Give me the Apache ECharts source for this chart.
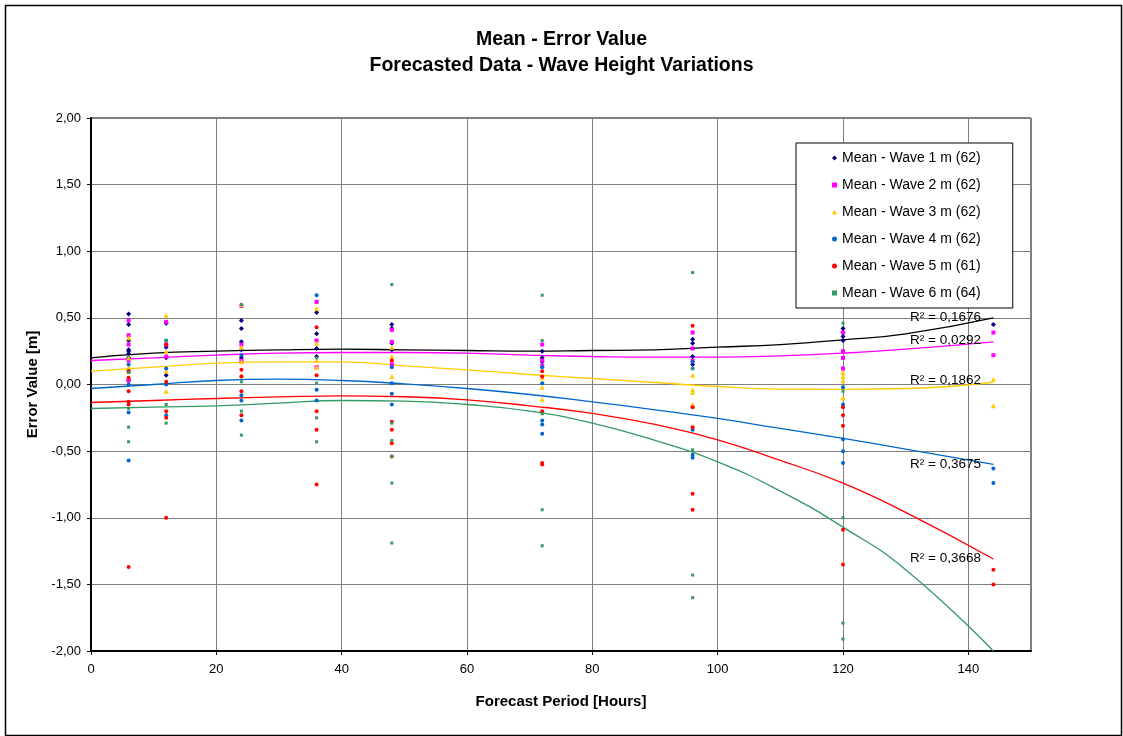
<!DOCTYPE html>
<html>
<head>
<meta charset="utf-8">
<script src="https://cdn.jsdelivr.net/npm/echarts@6/dist/echarts.min.js"></script>
<style>
  html, body { margin: 0; padding: 0; background: #fff; }
  #chart { width: 1123px; height: 736px; }
</style>
</head>
<body>
<div id="chart"></div>
<script>
// forecast periods (hours) where the means were sampled
const periods = [6, 12, 24, 36, 48, 72, 96, 120, 144];

// error values per period, one list per wave height
const wave1 = [
  [0.53, 0.45, 0.33, 0.26, 0.25, 0.23, 0.2, 0.03],
  [0.46, 0.28, 0.2, 0.07],
  [0.48, 0.42, 0.32, 0.26, 0.2],
  [0.54, 0.38, 0.27, 0.21],
  [0.45, 0.42, 0.31, 0.26],
  [0.25, 0.2, 0.17],
  [0.34, 0.31, 0.21, 0.15],
  [0.42, 0.39, 0.36, 0.33],
  [0.45]
];
const wave2 = [
  [0.48, 0.37, 0.3, 0.18, 0.03],
  [0.47, 0.3, 0.21],
  [0.59, 0.3, 0.18],
  [0.62, 0.33, 0.13],
  [0.41, 0.32, 0.15],
  [0.3, 0.18, 0.14],
  [0.39, 0.27, 0.18],
  [0.39, 0.25, 0.2, 0.12],
  [0.39, 0.22]
];
const wave3 = [
  [0.35, 0.2, 0.13, 0.1],
  [0.52, 0.25, 0.1, -0.05],
  [0.6, 0.28, 0.17, 0.07],
  [0.57, 0.31, 0.18, 0.13],
  [0.28, 0.21, 0.06],
  [0.05, -0.02, -0.11],
  [0.07, -0.04, -0.06, -0.15, -0.16],
  [0.09, 0.06, 0.03, -0.1],
  [0.04, -0.16]
];
const wave4 = [
  [0.15, 0.1, 0, -0.21, -0.57],
  [0.33, 0.12, 0, -0.23],
  [0.22, -0.08, -0.12, -0.27],
  [0.67, -0.04, -0.12],
  [0.13, 0.01, -0.07, -0.15],
  [0.13, 0.01, -0.27, -0.3, -0.37],
  [0.17, 0.12, -0.34, -0.53, -0.55],
  [-0.02, -0.15, -0.41, -0.5, -0.59],
  [-0.63, -0.74]
];
const wave5 = [
  [0.1, 0.05, -0.05, -0.13, -0.15, -1.37],
  [0.3, 0.02, -0.2, -0.25, -1.0],
  [0.11, 0.06, -0.05, -0.23],
  [0.43, 0.07, -0.2, -0.34, -0.75],
  [0.18, -0.28, -0.34, -0.44, -0.54],
  [0.1, 0.06, -0.2, -0.59, -0.6],
  [0.44, -0.17, -0.32, -0.82, -0.94],
  [-0.17, -0.23, -0.31, -1.09, -1.35],
  [-1.39, -1.5]
];
const wave6 = [
  [0.09, -0.18, -0.32, -0.43],
  [0.33, -0.15, -0.29],
  [0.6, 0.02, -0.2, -0.38],
  [0.2, 0.01, -0.25, -0.43],
  [0.75, -0.29, -0.42, -0.54, -0.74, -1.19],
  [0.67, 0.33, -0.22, -0.94, -1.21],
  [0.84, 0.12, -0.49, -1.43, -1.6],
  [0.46, -0.05, -1.0, -1.79, -1.91],
  []
];

// trend lines
const trendX = [0, 10, 20, 30, 40, 50, 60, 70, 80, 90, 100, 110, 120, 130, 144];
const trend1 = [0.2, 0.235, 0.25, 0.26, 0.265, 0.26, 0.255, 0.25, 0.255, 0.26, 0.28, 0.3, 0.335, 0.38, 0.5];
const trend2 = [0.18, 0.2, 0.22, 0.235, 0.24, 0.24, 0.235, 0.22, 0.21, 0.205, 0.205, 0.215, 0.235, 0.265, 0.32];
const trend3 = [0.1, 0.13, 0.16, 0.17, 0.17, 0.14, 0.11, 0.075, 0.045, 0.015, -0.015, -0.034, -0.036, -0.03, 0.017];
const trend4 = [-0.03, 0.0, 0.03, 0.04, 0.03, 0.005, -0.03, -0.075, -0.13, -0.19, -0.255, -0.33, -0.405, -0.485, -0.6];
const trend5 = [-0.135, -0.12, -0.105, -0.093, -0.085, -0.092, -0.115, -0.16, -0.217, -0.3, -0.415, -0.57, -0.74, -0.96, -1.31];
const trend6 = [-0.18, -0.17, -0.16, -0.14, -0.12, -0.125, -0.15, -0.2, -0.29, -0.42, -0.58, -0.8, -1.07, -1.39, -2.0];

const waveNames = [
  'Mean - Wave 1 m (62)', 'Mean - Wave 2 m (62)', 'Mean - Wave 3 m (62)',
  'Mean - Wave 4 m (62)', 'Mean - Wave 5 m (61)', 'Mean - Wave 6 m (64)'
];
const r2Labels = ['R² = 0,1676', 'R² = 0,0292', 'R² = 0,1862', 'R² = 0,3675', 'R² = 0,3668'];

const FONT = '"Liberation Sans", Arial, sans-serif';
const waveColors = ['#000080', '#FF00FF', '#FFCC00', '#0066CC', '#FF0000', '#339966'];
const trendColors = ['#000000', '#FF00FF', '#FFCC00', '#0066CC', '#FF0000', '#339966'];
const symbols = ['diamond', 'rect', 'triangle', 'circle', 'circle', 'rect'];
const symbolSizes = [5, 4, 5, 4, 4, 3];

const waves = [wave1, wave2, wave3, wave4, wave5, wave6];
const trends = [trend1, trend2, trend3, trend4, trend5, trend6];

const toPoints = (vals) => {
  const pts = [];
  vals.forEach((list, i) => list.forEach((v) => pts.push([periods[i], v])));
  return pts;
};

const series = [];
trends.forEach((t, i) => {
  series.push({
    name: 'trend' + (i + 1),
    type: 'line',
    smooth: true,
    showSymbol: false,
    silent: true,
    z: 2,
    lineStyle: { color: trendColors[i], width: 1.3 },
    data: trendX.map((x, k) => [x, t[k]])
  });
});
waves.forEach((w, i) => {
  series.push({
    name: waveNames[i],
    type: 'scatter',
    symbol: symbols[i],
    symbolSize: symbolSizes[i],
    z: 3,
    itemStyle: { color: waveColors[i], opacity: 1 },
    data: toPoints(w)
  });
});

const chart = echarts.init(document.getElementById('chart'));
const r2Y = [318, 341, 381, 465, 559];

chart.setOption({
  backgroundColor: '#ffffff',
  animation: false,
  title: {
    text: 'Mean - Error Value\nForecasted Data - Wave Height Variations',
    left: 'center',
    top: 22,
    textStyle: { fontFamily: FONT, fontSize: 19.5, fontWeight: 'bold', color: '#000', lineHeight: 26 }
  },
  legend: {
    data: waveNames,
    orient: 'vertical',
    left: 796,
    top: 143,
    padding: [8, 32, 8, 36],
    itemGap: 13,
    itemWidth: 5,
    itemHeight: 5,
    backgroundColor: '#ffffff',
    borderColor: '#000000',
    borderWidth: 1,
    borderRadius: 0,
    textStyle: { fontFamily: FONT, fontSize: 14, color: '#000' }
  },
  grid: {
    left: 91, right: 92, top: 118, bottom: 85,
    show: true, borderColor: '#000', borderWidth: 1, backgroundColor: '#fff'
  },
  xAxis: {
    type: 'value',
    min: 0, max: 150, interval: 20,
    name: 'Forecast Period [Hours]',
    nameLocation: 'middle',
    nameGap: 43,
    nameTextStyle: { fontFamily: FONT, fontSize: 15, fontWeight: 'bold', color: '#000' },
    axisLine: { show: true, onZero: false, lineStyle: { color: '#000', width: 2 } },
    axisTick: { show: true, length: 4, lineStyle: { color: '#000' } },
    axisLabel: { fontFamily: FONT, fontSize: 13, color: '#000', margin: 12, showMaxLabel: false },
    splitLine: { show: true, lineStyle: { color: '#808080', width: 1 } }
  },
  yAxis: {
    type: 'value',
    min: -2, max: 2, interval: 0.5,
    name: 'Error Value [m]',
    nameLocation: 'middle',
    nameGap: 51,
    nameRotate: 90,
    nameTextStyle: { fontFamily: FONT, fontSize: 15, fontWeight: 'bold', color: '#000' },
    axisLine: { show: true, onZero: false, lineStyle: { color: '#000', width: 2 } },
    axisTick: { show: true, length: 4, lineStyle: { color: '#000' } },
    axisLabel: {
      fontFamily: FONT, fontSize: 13, color: '#000', margin: 10,
      formatter: (v) => v.toFixed(2).replace('.', ',')
    },
    splitLine: { show: true, lineStyle: { color: '#808080', width: 1 } }
  },
  graphic: [
    {
      type: 'rect', left: 3, top: 3, silent: true,
      shape: { width: 1116, height: 730 },
      style: { fill: 'none', stroke: '#000', lineWidth: 1.5 }
    }
  ].concat(r2Labels.map((txt, i) => ({
    type: 'text', left: 910, top: r2Y[i] - 8, silent: true, z: 10,
    style: { text: txt, fontFamily: FONT, fontSize: 13.5, fill: '#000' }
  }))),
  series
});
</script>
</body>
</html>
